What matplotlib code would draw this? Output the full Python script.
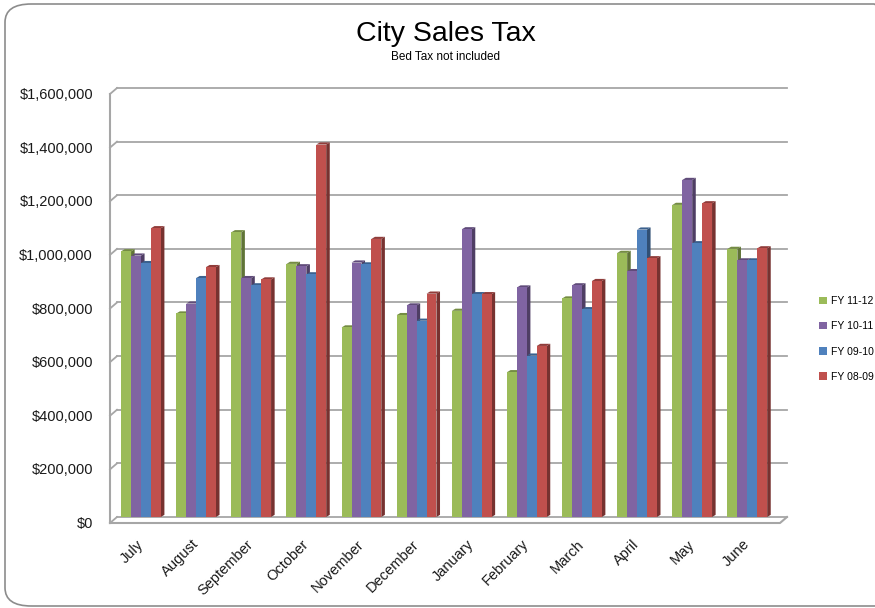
import numpy as np
import matplotlib.pyplot as plt
from matplotlib.patches import Polygon, Rectangle, FancyBboxPatch
from matplotlib.lines import Line2D
from matplotlib import font_manager
import matplotlib.transforms as mtransforms
import matplotlib.colors as mcolors

plt.rcParams['font.family'] = ['Liberation Sans', 'DejaVu Sans']

months = ['July', 'August', 'September', 'October', 'November', 'December',
          'January', 'February', 'March', 'April', 'May', 'June']
series = ['FY 11-12', 'FY 10-11', 'FY 09-10', 'FY 08-09']
colors = ['#9BBB59', '#8064A2', '#4F81BD', '#C0504D']

fy_11_12 = [991000, 759000, 1062000, 944000, 707000, 753000,
            769000, 540000, 815000, 985000, 1164000, 1000000]
fy_10_11 = [975000, 796000, 891000, 935000, 949000, 789000,
            1073000, 856000, 864000, 917000, 1257000, 957000]
fy_09_10 = [947000, 891000, 864000, 905000, 942000, 732000,
            831000, 602000, 775000, 1072000, 1021000, 957000]
fy_08_09 = [1077000, 932000, 886000, 1389000, 1037000, 833000,
            831000, 638000, 880000, 965000, 1170000, 1002000]
values = [fy_11_12, fy_10_11, fy_09_10, fy_08_09]
yticks = np.arange(0, 1600001, 200000)

W, H = 875, 608
fig = plt.figure(figsize=(W / 100, H / 100), dpi=100)


def fx(px):
    return px / W


def fy(py):
    return 1 - py / H


# chart border (rounded, cut off on the right/bottom like the screenshot)
fig.patches.append(FancyBboxPatch((fx(5), fy(606)), fx(900) - fx(5), fy(4) - fy(606),
                                  boxstyle='round,pad=0,rounding_size=0.03',
                                  transform=fig.transFigure, fill=False,
                                  edgecolor='#8C8C8C', linewidth=1.2, clip_on=False))

# back wall of the plot area
left, right, bottom, top = 117, 787, 517, 88
ax = fig.add_axes([fx(left), fy(bottom), fx(right) - fx(left), fy(top) - fy(bottom)])
ax.patch.set_visible(False)
ax.set_xlim(-0.435, 11.72)
ax.set_ylim(0, 1600000)


def ypx(v):
    return bottom - v * (bottom - top) / 1600000


dx, dy = 7, 6
gcol = '#A6A6A6'
for v in yticks:
    y = ypx(v)
    fig.add_artist(Line2D([fx(left), fx(right)], [fy(y), fy(y)], color=gcol, lw=1.3, zorder=-1))
    fig.add_artist(Line2D([fx(left - dx), fx(left)], [fy(y + dy), fy(y)], color=gcol, lw=1.3, zorder=-1))
    fig.text(fx(93), fy(y + 7), '${:,.0f}'.format(v), ha='right', va='center',
             fontsize=10.5, color='#1A1A1A')
fig.add_artist(Line2D([fx(left - dx), fx(left - dx)], [fy(bottom + dy), fy(top + dy)], color=gcol, lw=1.5, zorder=-1))
fig.add_artist(Line2D([fx(left - dx), fx(right - dx), fx(right)],
                      [fy(bottom + dy), fy(bottom + dy), fy(bottom)], color=gcol, lw=1.5, zorder=-1))

bw = 0.18      # bar width (data units)
depth = 0.065  # side depth
lift = 8000    # vertical skew of side/top


def shade(c, f):
    r, g, b = mcolors.to_rgb(c)
    return (r * f, g * f, b * f)


z = 3
for i in range(len(months)):
    for s in range(4):
        x0 = i - 2 * bw + s * bw
        x1 = x0 + bw
        h = values[s][i]
        col = colors[s]
        side = Polygon([(x1, 0), (x1 + depth, lift), (x1 + depth, h + lift), (x1, h)],
                       closed=True, facecolor=shade(col, 0.62), edgecolor='none', zorder=z)
        cap = Polygon([(x0, h), (x0 + depth, h + lift), (x1 + depth, h + lift), (x1, h)],
                      closed=True, facecolor=shade(col, 0.75), edgecolor='none', zorder=z)
        front = Rectangle((x0, 0), bw, h, facecolor=col, edgecolor='none', zorder=z + 1)
        ax.add_patch(side)
        ax.add_patch(cap)
        ax.add_patch(front)
        z += 2

ax.set_xticks([])
ax.set_yticks([])
for sp in ax.spines.values():
    sp.set_visible(False)

# month labels, rotated 45 degrees below the floor
lab_off = mtransforms.ScaledTranslation(0, -25 / 100, fig.dpi_scale_trans)
for i, m in enumerate(months):
    ax.text(i, 0, m, transform=ax.get_xaxis_transform() + lab_off, rotation=45,
            rotation_mode='anchor', ha='right', va='center', fontsize=10.5,
            color='#1A1A1A', clip_on=False)

handles = [Rectangle((0, 0), 1, 1, facecolor=c) for c in colors]
fig.legend(handles, series, loc='upper left', bbox_to_anchor=(fx(810), fy(287)),
           frameon=False, fontsize=7.5, handlelength=0.7, handleheight=0.7,
           handletextpad=0.4, labelspacing=1.45)

names = {f.name for f in font_manager.fontManager.ttflist}
if 'Liberation Sans Narrow' in names:
    tfam, tsize, ssize = ['Liberation Sans Narrow', 'Liberation Sans'], 23, 10
else:
    tfam, tsize, ssize = ['Liberation Sans', 'DejaVu Sans'], 20.5, 8.5
fig.text(fx(446), fy(34), 'City Sales Tax', ha='center', va='center', fontsize=tsize, family=tfam)
fig.text(fx(446), fy(57), 'Bed Tax not included', ha='center', va='center', fontsize=ssize, family=tfam)

fig.savefig('out.png', dpi=100)
